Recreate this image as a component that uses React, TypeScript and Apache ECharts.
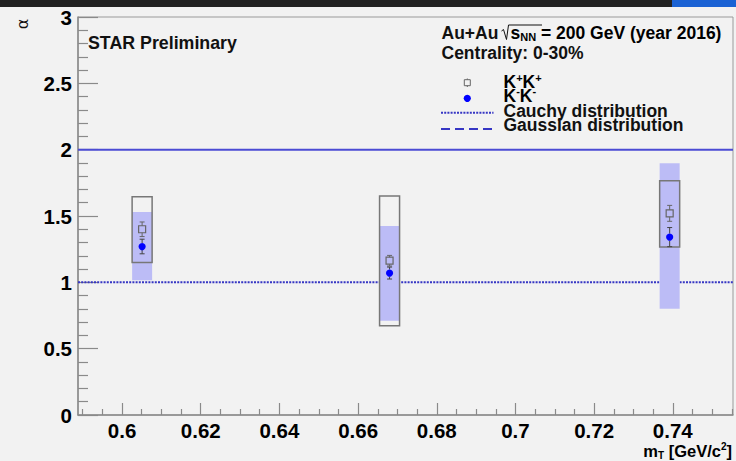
import React, { useEffect, useRef } from 'react';
import * as echarts from 'echarts';

// ---- data ----
const mT = [0.6051, 0.668, 0.7392];
const kpAlpha = [1.40, 1.163, 1.52];
const kpStat = [0.055, 0.04, 0.06];
const kpSysLow = [1.15, 0.673, 1.266];
const kpSysHigh = [1.645, 1.65, 1.766];
const kmAlpha = [1.27, 1.07, 1.341];
const kmStat = [0.055, 0.045, 0.072];
const kmSysLow = [1.015, 0.71, 0.8];
const kmSysHigh = [1.53, 1.424, 1.897];
const cauchyAlpha = 1;
const gaussAlpha = 2;

const xMin = 0.5888;
const xMax = 0.7553;
const xMajorTicks = [0.6, 0.62, 0.64, 0.66, 0.68, 0.7, 0.72, 0.74];
const xTickLabels = ['0.6', '0.62', '0.64', '0.66', '0.68', '0.7', '0.72', '0.74'];
const xMinorTicks = [
  0.59, 0.595, 0.605, 0.61, 0.615, 0.625, 0.63, 0.635, 0.645, 0.65, 0.655,
  0.665, 0.67, 0.675, 0.685, 0.69, 0.695, 0.705, 0.71, 0.715, 0.725, 0.73,
  0.735, 0.745, 0.75, 0.755,
];
const yMin = 0;
const yMax = 3;
const yInterval = 0.5;

const FONT = '"Liberation Sans", Arial, Helvetica, sans-serif';
const AXIS_GRAY = '#8a8a8a';

export default function App() {
  const ref = useRef<HTMLDivElement>(null);

  useEffect(() => {
    if (!ref.current) return;
    const chart = echarts.init(ref.current, undefined, { renderer: 'svg' });

    const sysBoxRender = (fill: string, stroke: string) => (params: any, api: any) => {
      const x = api.value(0);
      const lo = api.value(1);
      const hi = api.value(2);
      const pTop = api.coord([x, hi]);
      const pBot = api.coord([x, lo]);
      return {
        type: 'rect',
        shape: { x: pTop[0] - 10, y: pTop[1], width: 20, height: pBot[1] - pTop[1] },
        style: { fill, stroke, lineWidth: stroke === 'none' ? 0 : 1.5 },
      };
    };

    const pointRender = (kind: 'square' | 'dot') => (params: any, api: any) => {
      const x = api.value(0);
      const y = api.value(1);
      const e = api.value(2);
      const c = api.coord([x, y]);
      const t = api.coord([x, y + e]);
      const b = api.coord([x, y - e]);
      const col = kind === 'square' ? '#666' : '#444';
      const half = 3.5;
      const children: any[] = [
        { type: 'line', shape: { x1: c[0], y1: t[1], x2: c[0], y2: c[1] - half }, style: { stroke: col, lineWidth: 1 } },
        { type: 'line', shape: { x1: c[0], y1: c[1] + half, x2: c[0], y2: b[1] }, style: { stroke: col, lineWidth: 1 } },
        { type: 'line', shape: { x1: c[0] - 2.5, y1: t[1], x2: c[0] + 2.5, y2: t[1] }, style: { stroke: col, lineWidth: 1 } },
        { type: 'line', shape: { x1: c[0] - 2.5, y1: b[1], x2: c[0] + 2.5, y2: b[1] }, style: { stroke: col, lineWidth: 1 } },
      ];
      if (kind === 'square') {
        children.push({ type: 'rect', shape: { x: c[0] - half, y: c[1] - half, width: 2 * half, height: 2 * half }, style: { fill: 'none', stroke: '#666', lineWidth: 1.2 } });
      } else {
        children.push({ type: 'circle', shape: { cx: c[0], cy: c[1], r: 3.6 }, style: { fill: '#0000ff', stroke: 'none' } });
      }
      return { type: 'group', children };
    };

    const txt = (x: number, y: number, text: string, extra: any = {}) => ({
      type: 'text',
      x,
      y,
      z: 10,
      style: { text, fontFamily: FONT, fontSize: 17.5, fontWeight: 'bold', fill: '#111', verticalAlign: 'middle', align: 'left', lineHeight: 14, ...extra },
    });

    const rich = (lh: number) => ({
      a: { fontFamily: FONT, fontSize: 17.5, fontWeight: 'bold', color: '#111', lineHeight: lh },
      sub: { fontFamily: FONT, fontSize: 11, fontWeight: 'bold', color: '#111', verticalAlign: 'bottom', lineHeight: lh },
      sup: { fontFamily: FONT, fontSize: 11, fontWeight: 'bold', color: '#111', verticalAlign: 'top', lineHeight: lh },
    });

    const option: any = {
      animation: false,
      backgroundColor: '#f2f2f2',
      grid: { left: 78, top: 17, right: 3, bottom: 46, show: true, borderColor: '#9a9a9a', borderWidth: 1, backgroundColor: 'transparent' },
      xAxis: [
        {
          type: 'value',
          min: xMin,
          max: xMax,
          position: 'bottom',
          axisLine: { show: true, lineStyle: { color: AXIS_GRAY, width: 1.5 } },
          axisTick: { show: true, inside: true, length: 12, customValues: xMajorTicks, lineStyle: { color: AXIS_GRAY, width: 1.2 } },
          axisLabel: {
            show: true,
            customValues: xMajorTicks,
            margin: 5,
            fontFamily: FONT,
            fontSize: 20.5,
            fontWeight: 'bold',
            color: '#000',
            formatter: (v: number) => {
              let best = 0;
              xMajorTicks.forEach((m, i) => {
                if (Math.abs(m - v) < Math.abs(xMajorTicks[best] - v)) best = i;
              });
              return xTickLabels[best];
            },
          },
          splitLine: { show: false },
        },
        {
          type: 'value',
          min: xMin,
          max: xMax,
          position: 'bottom',
          axisLine: { show: false },
          axisTick: { show: true, inside: true, length: 6, customValues: xMinorTicks, lineStyle: { color: AXIS_GRAY, width: 1.2 } },
          axisLabel: { show: false },
          splitLine: { show: false },
        },
      ],
      yAxis: {
        type: 'value',
        min: yMin,
        max: yMax,
        interval: yInterval,
        axisLine: { show: true, lineStyle: { color: AXIS_GRAY, width: 1.5 } },
        axisTick: { show: true, inside: true, length: 20, lineStyle: { color: AXIS_GRAY, width: 1.2 } },
        minorTick: { show: true, splitNumber: 5, length: 10, lineStyle: { color: AXIS_GRAY, width: 1.2 } },
        axisLabel: { margin: 6, fontFamily: FONT, fontSize: 20.5, fontWeight: 'bold', color: '#000' },
        splitLine: { show: false },
        minorSplitLine: { show: false },
      },
      series: [
        {
          type: 'line',
          name: 'Gaussian distribution',
          data: [[xMin, gaussAlpha], [xMax, gaussAlpha]],
          symbol: 'none',
          lineStyle: { color: '#4b4bd4', width: 2, type: 'solid' },
          z: 2,
        },
        {
          type: 'line',
          name: 'Cauchy distribution',
          data: [[xMin, cauchyAlpha], [xMax, cauchyAlpha]],
          symbol: 'none',
          lineStyle: { color: '#3636c4', width: 2, type: [2, 1.2] },
          z: 2,
        },
        {
          type: 'custom',
          name: 'K-K- sys',
          renderItem: sysBoxRender('#bcbcf6', 'none'),
          data: mT.map((x, i) => [x, kmSysLow[i], kmSysHigh[i]]),
          z: 3,
        },
        {
          type: 'custom',
          name: 'K+K+ sys',
          renderItem: sysBoxRender('none', '#777'),
          data: mT.map((x, i) => [x, kpSysLow[i], kpSysHigh[i]]),
          z: 4,
        },
        {
          type: 'custom',
          name: 'K+K+',
          renderItem: pointRender('square'),
          data: mT.map((x, i) => [x, kpAlpha[i], kpStat[i]]),
          z: 5,
        },
        {
          type: 'custom',
          name: 'K-K-',
          renderItem: pointRender('dot'),
          data: mT.map((x, i) => [x, kmAlpha[i], kmStat[i]]),
          z: 6,
        },
      ],
      graphic: [
        { type: 'rect', shape: { x: 0, y: 0, width: 736, height: 7 }, style: { fill: '#222' }, z: 20 },
        { type: 'rect', shape: { x: 672, y: 0, width: 64, height: 7 }, style: { fill: '#1a62d4' }, z: 21 },
        {
          type: 'text', x: 22, y: 24, rotation: Math.PI / 2, z: 10,
          style: { text: 'α', fontFamily: '"DejaVu Sans", sans-serif', fontSize: 16, fill: '#111', align: 'center', verticalAlign: 'middle' },
        },
        txt(88, 43, 'STAR Preliminary', { fontSize: 17.8, lineHeight: 20 }),
        txt(441.5, 32.5, 'Au+Au', { lineHeight: 18 }),
        { type: 'polyline', z: 10, shape: { points: [[501.5, 31], [503.5, 29.5], [506.5, 39.5], [508.5, 25], [542, 25]] }, style: { stroke: '#111', lineWidth: 1, fill: 'none' } },
        {
          type: 'text', x: 510.5, y: 32.5, z: 10,
          style: { text: '{a|s}{sub|NN}{a| = 200 GeV (year 2016)}', rich: rich(20), verticalAlign: 'middle', align: 'left' },
        },
        txt(441.5, 53, 'Centrality: 0-30%', { lineHeight: 18 }),
        // legend
        { type: 'line', z: 10, shape: { x1: 467.3, y1: 78.5, x2: 467.3, y2: 87 }, style: { stroke: '#666', lineWidth: 1 } },
        { type: 'rect', z: 11, shape: { x: 464.3, y: 79.7, width: 6, height: 6 }, style: { fill: '#f2f2f2', stroke: '#666', lineWidth: 1 } },
        { type: 'circle', z: 10, shape: { cx: 467.3, cy: 98.3, r: 3.6 }, style: { fill: '#0000ff' } },
        { type: 'line', z: 10, shape: { x1: 441, y1: 112.7, x2: 493.5, y2: 112.7 }, style: { stroke: '#3636c4', lineWidth: 2, lineDash: [2, 1.2] } },
        { type: 'line', z: 10, shape: { x1: 441, y1: 129, x2: 493.5, y2: 129 }, style: { stroke: '#3636c4', lineWidth: 2, lineDash: [9, 5] } },
        {
          type: 'text', x: 503.5, y: 82, z: 10,
          style: { text: '{a|K}{sup|+}{a|K}{sup|+}', rich: rich(20), verticalAlign: 'middle', align: 'left' },
        },
        {
          type: 'text', x: 503.5, y: 95.5, z: 11,
          style: { text: '{a|K}{sup|-}{a|K}{sup|-}', rich: rich(20), verticalAlign: 'middle', align: 'left' },
        },
        txt(503.5, 110.5, 'Cauchy distribution'),
        txt(503.5, 125, 'Gaussian distribution'),
        {
          type: 'text', x: 732, y: 451, z: 10,
          style: {
            text: '{a|m}{sub|T}{a| [GeV/c}{sup|2}{a|]}',
            rich: {
              a: { fontFamily: FONT, fontSize: 16.5, fontWeight: 'bold', color: '#111', lineHeight: 19 },
              sub: { fontFamily: FONT, fontSize: 10, fontWeight: 'bold', color: '#111', verticalAlign: 'bottom', lineHeight: 19 },
              sup: { fontFamily: FONT, fontSize: 10, fontWeight: 'bold', color: '#111', verticalAlign: 'top', lineHeight: 19 },
            },
            align: 'right',
            verticalAlign: 'middle',
          },
        },
      ],
    };

    chart.setOption(option);
    return () => chart.dispose();
  }, []);

  return (
    <div
      ref={ref}
      style={{ position: 'fixed', left: 0, top: 0, width: 736, height: 461, background: '#f2f2f2' }}
    />
  );
}
